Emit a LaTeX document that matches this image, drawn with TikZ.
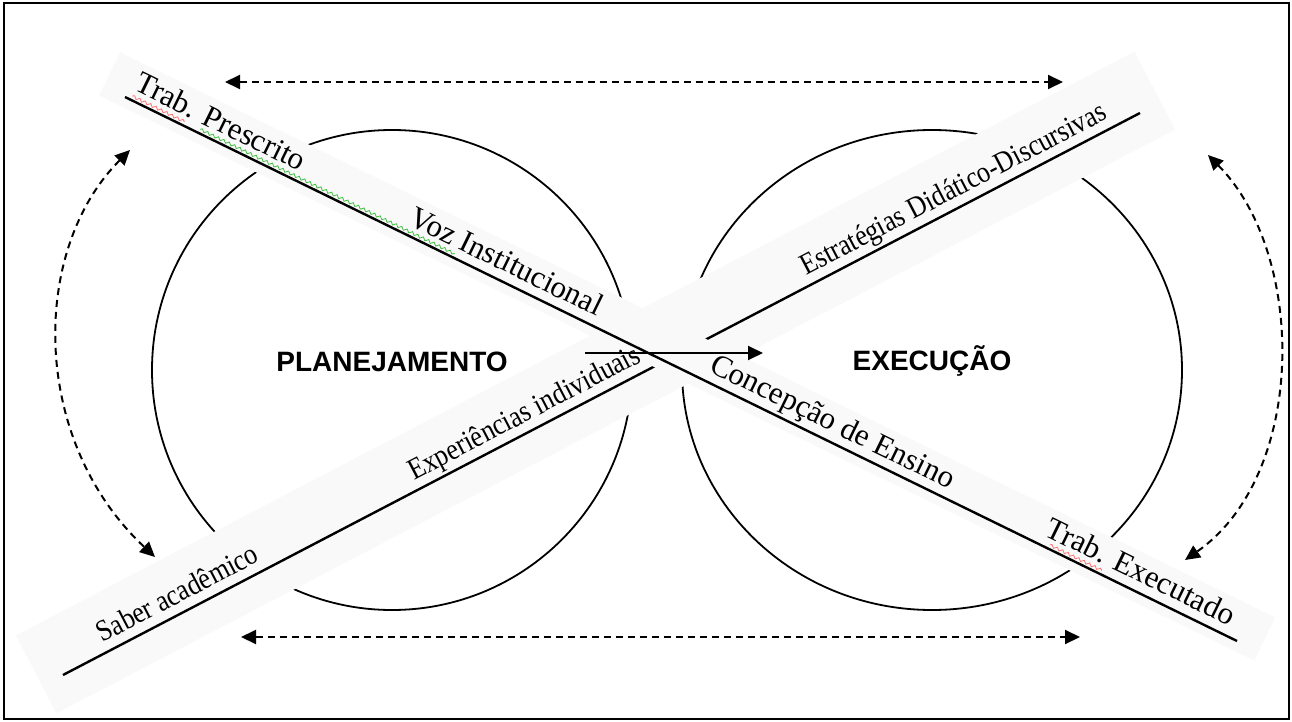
\documentclass[tikz,border=0pt]{standalone}
\usepackage{fontspec}
\setmainfont{Liberation Serif}
\setsansfont{Liberation Sans}
\usetikzlibrary{calc,arrows.meta,shapes.geometric,decorations.pathmorphing}

\begin{document}
\begin{tikzpicture}[x=0.5pt,y=-0.5pt,>={Triangle[length=7.5pt,width=7pt]}]
 \tikzstyle{band} = [fill=black!2.5,draw=none,inner sep=0,sloped]
 \tikzstyle{ring} = [draw,line width=0.9pt,inner sep=0]
 \tikzstyle{axis} = [line width=1.2pt]
 \tikzstyle{dlabel} = [sloped,anchor=base west,inner sep=0,font=\fontsize{15.5}{16}\selectfont]
 \tikzstyle{alabel} = [sloped,anchor=base west,inner sep=0,font=\fontsize{15}{16}\selectfont\addfontfeature{FakeStretch=0.87}]
 \tikzstyle{link} = [line width=1pt,dash pattern=on 3.5pt off 2.5pt,<->]
 \tikzstyle{spell} = [line width=0.4pt,decorate,decoration={snake,amplitude=0.7pt,segment length=3pt}]
 \tikzstyle{title} = [font=\sffamily\bfseries\fontsize{14}{16}\selectfont]

  \useasboundingbox (0,0) rectangle (1292,722);
  \draw[line width=1pt] (4,3) rectangle (1289,719);

  \coordinate (d1) at (125,97);
  \coordinate (d2) at (1237,641);
  \coordinate (a1) at (63,675);
  \coordinate (a2) at (1140,113);

  % Circles
  \node[ring,circle,minimum size=240pt] (cplan) at (392,370) {};
  \node[ring,ellipse,minimum width=250pt,minimum height=240pt] (cexec) at (932,370) {};

  % Rising line (its labels come after the other band)
  \coordinate (am1) at ($(a1)!6.5pt!90:(a2)$);
  \coordinate (am2) at ($(a2)!6.5pt!-90:(a1)$);
  \path (am1) -- (am2) node[band,midway,minimum width=631pt,minimum height=44pt] {};
  \draw[axis] (a1) -- (a2);

  % Falling line
  \coordinate (dm1) at ($(d1)!7pt!90:(d2)$);
  \coordinate (dm2) at ($(d2)!7pt!-90:(d1)$);
  \path (dm1) -- (dm2) node[band,midway,minimum width=643pt,minimum height=24pt] {};

  \coordinate (at1) at ($(a1)!5pt!90:(a2)$);
  \coordinate (at2) at ($(a2)!5pt!-90:(a1)$);
  \path (at1) -- (at2)
    node[alabel,pos=0.041] (lsaber) {Saber acadêmico}
    node[alabel,pos=0.330] (lexp) {Experiências individuais}
    node[alabel,pos=0.694] (lestr) {Estratégias Didático-Discursivas};

  \draw[axis] (d1) -- (d2);
  \coordinate (dt1) at ($(d1)!5pt!90:(d2)$);
  \coordinate (dt2) at ($(d2)!5pt!-90:(d1)$);
  \path (dt1) -- (dt2)
    node[dlabel,pos=0.003] (lpresc) {Trab. Prescrito}
    node[dlabel,pos=0.25] (lvoz) {Voz Institucional}
    node[dlabel,pos=0.52] (lconc) {Concepção de Ensino}
    node[dlabel,pos=0.822] (lexec) {Trab. Executado};

  % spell check marks
  \coordinate (du1) at ($(d1)!2pt!90:(d2)$);
  \coordinate (du2) at ($(d2)!2pt!-90:(d1)$);
  \draw[spell,red!55!white] ($(du1)!0.005!(du2)$) -- ($(du1)!0.052!(du2)$);
  \draw[spell,green!50!gray] ($(du1)!0.066!(du2)$) -- ($(du1)!0.295!(du2)$);
  \draw[spell,red!55!white] ($(du1)!0.83!(du2)$) -- ($(du1)!0.877!(du2)$);

  % Titles
  \node[title] (plan) at (392,362) {PLANEJAMENTO};
  \node[title] (exec) at (932,361) {EXECUÇÃO};

  \coordinate (h1) at (585,353);
  \coordinate (h2) at (763,353);
  \draw[line width=1pt,->] (h1) -- (h2);

  % dashed links
  \coordinate (t1) at (225,82);
  \coordinate (t2) at (1063,82);
  \coordinate (b1) at (241,637);
  \coordinate (b2) at (1080,637);
  \coordinate (l1) at (130,150);
  \coordinate (l2) at (155,557);
  \coordinate (r1) at (1208,155);
  \coordinate (r2) at (1185,560);
  \draw[link] (t1) -- (t2);
  \draw[link] (b1) -- (b2);
  \draw[link] (l1) .. controls (30,250) and (30,440) .. (l2);
  \draw[link] (r1) .. controls (1307,255) and (1307,475) .. (r2);

\end{tikzpicture}
\end{document}
